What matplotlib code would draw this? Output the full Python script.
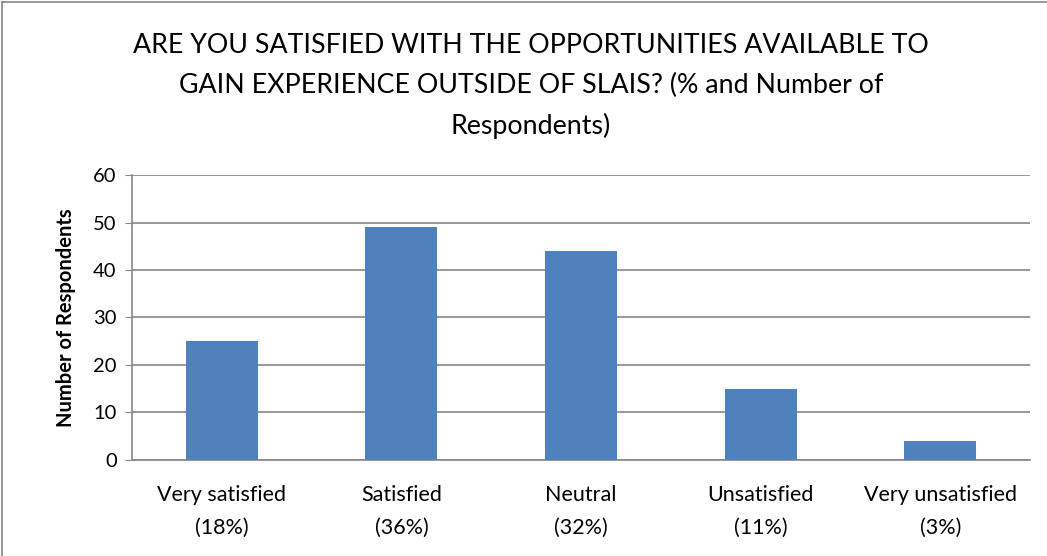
import matplotlib.pyplot as plt
import numpy as np

# --- Data ---
categories = ['Very satisfied\n(18%)', 'Satisfied\n(36%)', 'Neutral\n(32%)',
              'Unsatisfied\n(11%)', 'Very unsatisfied\n(3%)']
respondents = [25, 49, 44, 15, 4]
y_ticks = [0, 10, 20, 30, 40, 50, 60]

TITLE = ('ARE YOU SATISFIED WITH THE OPPORTUNITIES AVAILABLE TO\n'
         'GAIN EXPERIENCE OUTSIDE OF SLAIS? (% and Number of\n'
         'Respondents)')

plt.rcParams['font.family'] = ['Lato', 'DejaVu Sans']

fig = plt.figure(figsize=(10.47, 5.56), dpi=100)
ax = fig.add_axes([0.126, 0.173, 0.858, 0.512])

x = np.arange(len(categories))
ax.bar(x, respondents, width=0.4, color='#4f81bd', zorder=3)

ax.set_xlim(-0.5, len(categories) - 0.5)
ax.set_ylim(0, 60)
ax.set_yticks(y_ticks)
ax.set_xticks(x)
ax.set_xticklabels(categories, fontsize=15.5, linespacing=1.8)
ax.tick_params(axis='y', labelsize=14.5, length=5, color='#868686', pad=6)
ax.tick_params(axis='x', length=0, pad=18)

ax.grid(axis='y', color='#868686', linewidth=1.2, zorder=0)
for side in ['top', 'right']:
    ax.spines[side].set_visible(False)
for side in ['left', 'bottom']:
    ax.spines[side].set_color('#868686')
    ax.spines[side].set_linewidth(1.2)

ax.set_ylabel('Number of Respondents', fontsize=14.5, fontweight='bold', labelpad=12)

fig.text(0.507, 0.94, TITLE, ha='center', va='top', fontsize=19.3, linespacing=1.72)

# outer chart border (left and top edges visible)
fig.add_artist(plt.Line2D([0.002, 0.002], [0, 0.997], transform=fig.transFigure,
                          color='#868686', linewidth=1.2))
fig.add_artist(plt.Line2D([0.002, 1.0], [0.997, 0.997], transform=fig.transFigure,
                          color='#868686', linewidth=1.2))

fig.savefig('out.png', dpi=100)
